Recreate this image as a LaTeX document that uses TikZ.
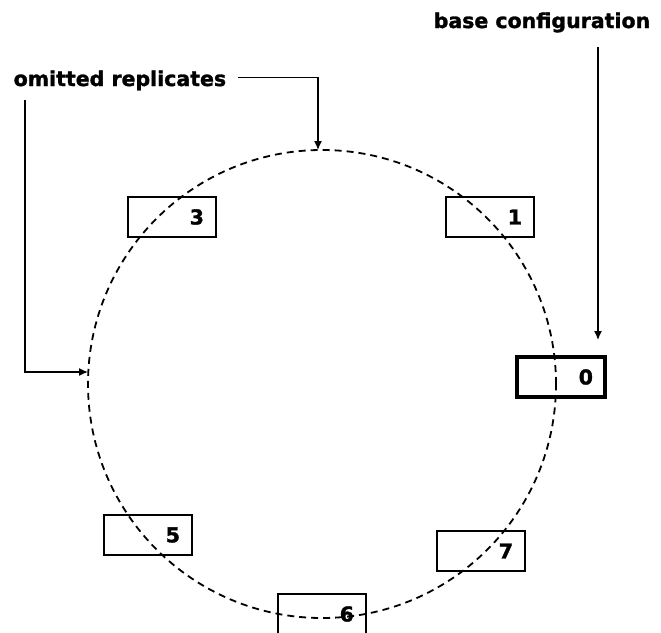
\documentclass[tikz,border=0pt]{standalone}
\usepackage{fontspec}
\setmainfont{DejaVu Sans}[BoldFeatures={FakeBold=1.5}]
\usetikzlibrary{arrows.meta,positioning}

\begin{document}
\begin{tikzpicture}[x=1pt,y=-1pt,>={Latex[length=9pt,width=8pt]},
  line width=1.4pt,font=\fontsize{20.5}{24}\selectfont\bfseries,
  rep node/.style={draw,rectangle,minimum height=40pt,text width=64pt,inner xsep=12pt,align=right},
  base node/.style={rep node,line width=3.8pt},
  label node/.style={inner sep=5pt,anchor=base west}]

\useasboundingbox (0,0) rectangle (661,632);

% ring of replicates
\coordinate (c) at (322,384);
\draw[line width=1.8pt,dash pattern=on 7pt off 5pt] (c) circle[radius=234pt];

\node[rep node] (r3) at (172,217) {3};
\node[rep node] (r1) at (490,217) {1};
\node[base node] (r0) at (561,377) {0};
\node[rep node] (r5) at (148,535) {5};
\node[rep node] (r6) at (322,614) {6};
\node[rep node] (r7) at (481,551) {7};

\node[label node] (omit) at (8,86) {omitted replicates};
\node[label node] (base) at (428,28) {base configuration};

\coordinate (ctop) at (318,150);
\coordinate (cleft) at (88,372);
\coordinate (tip0) at (598,340);

\draw[->,shorten <=6pt] ([yshift=3pt]omit.east) -| (ctop);
\draw[->,shorten <=4pt] ([xshift=17pt]omit.south west) |- (cleft);
\draw[->,shorten <=9pt] (base.south -| tip0) -- (tip0);
\end{tikzpicture}
\end{document}
